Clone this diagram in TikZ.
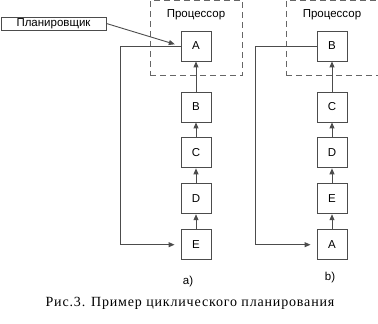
\documentclass[tikz,border=0pt]{standalone}
\usepackage{fontspec}
\setmainfont{Liberation Sans}
\newfontfamily\serifcap[LetterSpace=6]{Liberation Serif}
\usetikzlibrary{arrows.meta,positioning}

\begin{document}
\begin{tikzpicture}[
    x=1pt, y=1pt,
    node distance=15pt,
    every node/.style={font=\fontsize{11.5}{14}\selectfont},
    task/.style={draw=black!70, line width=0.9pt, minimum size=30pt, inner sep=0pt},
    cpu/.style={draw=black!60, line width=0.9pt, dash pattern=on 6pt off 4pt,
                minimum width=92pt, minimum height=75.5pt, inner sep=0pt},
    flow/.style={-{Triangle[length=6pt,width=5pt]}, draw=black!70, line width=0.9pt}]
  \useasboundingbox (0,0) rectangle (378,324);
  % processor frames
  \node[cpu] (cpu1) at (196,285.8) {};
  \node[cpu] (cpu2) at (332,285.8) {};
  \node (cpulab1) at (196,309) {Процессор};
  \node (cpulab2) at (332,309) {Процессор};
  % a) queue
  \node[task] (a1) at (196,278) {A};
  \node[task] (b1) at (196,217) {B};
  \node[task, below=of b1] (c1) {C};
  \node[task, below=of c1] (d1) {D};
  \node[task, below=of d1] (e1) {E};
  % b) queue
  \node[task] (b2) at (332,278) {B};
  \node[task] (c2) at (332,217) {C};
  \node[task, below=of c2] (d2) {D};
  \node[task, below=of d2] (e2) {E};
  \node[task, below=of e2] (a2) {A};
  \foreach \lo/\hi in {e1/d1,d1/c1,c1/b1,b1/a1,a2/e2,e2/d2,d2/c2,c2/b2}
    \draw[flow] (\lo) -- (\hi);
  % scheduler
  \node[draw=black!70, line width=0.9pt, minimum width=105pt, minimum height=13pt,
        inner sep=0pt] (sched) at (53.5,300.5) {Планировщик};
  \draw[flow, shorten >=6pt] (sched.east) -- (a1.west);
  \draw[flow, shorten >=6pt] (a1.west) -- ++(-60,0) |- (e1.west);
  \draw[flow, shorten >=6pt] (b2.west) -- ++(-61,0) |- (a2.west);
  % labels
  \node (laba) at (188,42) {a)};
  \node (labb) at (330,46) {b)};
  \node[font=\serifcap\fontsize{14}{16}\selectfont] (caption) at (190,21)
       {Рис.3. Пример циклического планирования};
\end{tikzpicture}
\end{document}
